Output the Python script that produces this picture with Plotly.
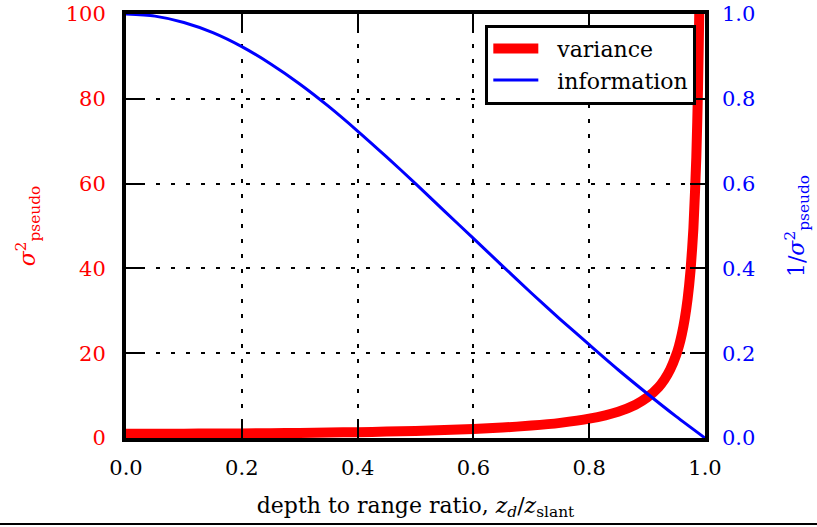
"""
方差与信息量随深度/斜距比的变化
"""
import plotly.graph_objects as go

# 横轴：深度与斜距之比
depth_ratio = [0.0, 0.05, 0.1, 0.15, 0.2, 0.25, 0.3, 0.35, 0.4, 0.45, 0.5,
               0.55, 0.6, 0.65, 0.7, 0.75, 0.8, 0.85, 0.88, 0.9, 0.92, 0.93, 0.94, 0.95,
               0.955, 0.96, 0.965, 0.97, 0.975, 0.98, 0.985, 0.988, 0.99, 0.992, 0.995]

# 左轴：伪距方差
variance = [1.0, 1.005, 1.02, 1.046, 1.083, 1.133, 1.198, 1.279, 1.381, 1.507, 1.667,
            1.867, 2.125, 2.464, 2.922, 3.571, 4.556, 6.207, 7.85, 9.53, 12.02, 13.8, 16.18, 19.51,
            21.7, 24.51, 28.1, 32.84, 39.51, 49.51, 66.17, 82.8, 99.5, 124.5, 199.5]

# 右轴：信息量 (1/方差)
info_ratio = [0.0, 0.05, 0.1, 0.15, 0.2, 0.25, 0.3, 0.35, 0.4, 0.45, 0.5,
              0.55, 0.6, 0.65, 0.7, 0.75, 0.8, 0.85, 0.9, 0.95, 1.0]
information = [1.0, 0.995, 0.980, 0.956, 0.923, 0.882, 0.835, 0.782, 0.724, 0.663, 0.600,
               0.535, 0.471, 0.406, 0.342, 0.280, 0.220, 0.161, 0.105, 0.051, 0.0]

x_ticks = [0.0, 0.2, 0.4, 0.6, 0.8, 1.0]
y_ticks = [0, 20, 40, 60, 80, 100]
y2_ticks = [0.0, 0.2, 0.4, 0.6, 0.8, 1.0]

FONT = "DejaVu Serif"
RED = "#ff0000"
BLUE = "#0000ff"
NB = "\u00a0"

fig = go.Figure()

fig.add_trace(go.Scatter(
    x=depth_ratio, y=variance, name=NB * 2 + "variance", mode="lines",
    line=dict(color=RED, width=10, shape="spline", smoothing=0.6), yaxis="y"
))
fig.add_trace(go.Scatter(
    x=info_ratio, y=information, name=NB * 2 + "information", mode="lines",
    line=dict(color=BLUE, width=3, shape="spline", smoothing=0.8), yaxis="y2"
))

axis_common = dict(
    showline=True, linecolor="black", linewidth=4, mirror="ticks",
    ticks="inside", ticklen=15, tickwidth=2, tickcolor="black",
    zeroline=False, automargin=False,
)

fig.update_layout(
    width=817, height=527,
    margin=dict(l=126, r=112, t=14, b=89),
    paper_bgcolor="white", plot_bgcolor="white",
    font=dict(family=FONT, size=20, color="black"),
    xaxis=dict(
        range=[0, 1], tickvals=x_ticks, tickformat=".1f",
        tickfont=dict(size=21),
        showgrid=True, gridcolor="black", gridwidth=2, griddash="4px,11px",
        ticklabelstandoff=8,
        title=dict(text="depth to range ratio, <i>z<sub>d</sub></i>/<i>z</i><sub>slant</sub>",
                   font=dict(size=22), standoff=19),
        **axis_common
    ),
    yaxis=dict(
        range=[0, 100], tickvals=y_ticks,
        tickfont=dict(color=RED, size=21),
        showgrid=True, gridcolor="black", gridwidth=2, griddash="4px,11px",
        ticklabelstandoff=12,
        title=dict(text="<i>σ</i><sup>2</sup><sub>pseudo</sub>",
                   font=dict(color=RED, size=22), standoff=25),
        **axis_common
    ),
    yaxis2=dict(
        range=[0, 1], tickvals=y2_ticks, tickformat=".1f",
        overlaying="y", side="right",
        tickfont=dict(color=BLUE, size=21),
        showgrid=False, showline=False, ticks="", zeroline=False, automargin=False,
        ticklabelstandoff=16,
        title=dict(text="1/<i>σ</i><sup>2</sup><sub>pseudo</sub>",
                   font=dict(color=BLUE, size=22), standoff=34),
    ),
    legend=dict(
        x=0.985, y=0.975, xanchor="right", yanchor="top",
        bgcolor="white", bordercolor="black", borderwidth=3,
        font=dict(size=22), itemwidth=45,
    ),
    showlegend=True,
)

# 图底部的分隔线
fig.add_shape(type="line", xref="paper", yref="paper",
              x0=-0.22, x1=1.2, y0=-0.203, y1=-0.203,
              line=dict(color="black", width=2))

# 去掉页面 body 的默认 8px 边距，隐藏工具栏
fig.write_html("out.html", config={"displayModeBar": False},
               post_script="document.body.style.margin='0';")
